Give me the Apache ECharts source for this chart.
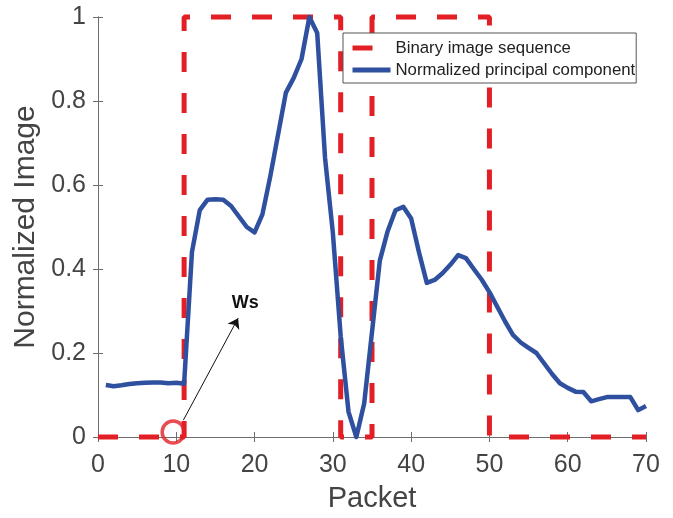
<!DOCTYPE html>
<html>
<head>
<meta charset="utf-8">
<script src="https://cdn.jsdelivr.net/npm/echarts@6/dist/echarts.min.js"></script>
<style>
  html, body { margin: 0; padding: 0; background: #fff; }
  #chart { width: 673px; height: 518px; }
</style>
</head>
<body>
<div id="chart"></div>
<script>
// packet index of the principal-component curve
var packets = [];
for (var p = 1; p <= 70; p++) packets.push(p);

// normalized principal component (x = 1..70)
var pcValues = [
  0.124, 0.121, 0.123, 0.126, 0.128, 0.129, 0.130, 0.130, 0.128, 0.129,
  0.127, 0.440, 0.540, 0.565, 0.566, 0.565, 0.550, 0.525, 0.500, 0.487,
  0.530, 0.620, 0.720, 0.820, 0.855, 0.900, 1.000, 0.962, 0.665, 0.486,
  0.240, 0.060, 0.000, 0.080, 0.250, 0.420, 0.490, 0.540, 0.548, 0.520,
  0.440, 0.367, 0.374, 0.390, 0.410, 0.433, 0.426, 0.400, 0.375, 0.345,
  0.310, 0.275, 0.243, 0.225, 0.212, 0.200, 0.175, 0.150, 0.128, 0.117,
  0.108, 0.107, 0.085, 0.090, 0.095, 0.095, 0.095, 0.095, 0.064, 0.074
];

// binary image sequence as step corners
var binX = [0, 11, 11, 31, 31, 35, 35, 50, 50, 70];
var binY = [0, 0, 1, 1, 0, 0, 1, 1, 0, 0];

var xTicks = [0, 10, 20, 30, 40, 50, 60, 70];
var yTicks = [0, 0.2, 0.4, 0.6, 0.8, 1];

// the Ws marker (circle) and its arrow / label
var wsCircle = [9.6, 0.012];
var wsArrow = [[10.9, 0.04], [17.9, 0.283]];
var wsLabel = [18.8, 0.318];

var pcData = packets.map(function (x, i) { return [x, pcValues[i]]; });
var binData = binX.map(function (x, i) { return [x, binY[i]]; });

var myChart = echarts.init(document.getElementById('chart'));

var red = '#e31f26';
var blue = '#2f4f9f';
var axisGray = '#6e6e6e';
var font = 'Liberation Sans, Arial, Helvetica, sans-serif';

var option = {
  animation: false,
  backgroundColor: '#fff',
  grid: { left: 98, right: 27, top: 17, bottom: 81 },
  legend: {
    orient: 'vertical',
    left: 343,
    top: 33,
    data: [
      { name: 'Binary image sequence', lineStyle: { width: 5, color: red, type: [20, 21] } },
      { name: 'Normalized principal component', lineStyle: { width: 5, color: blue } }
    ],
    itemWidth: 38,
    itemHeight: 14,
    itemGap: 2,
    padding: [5, 1, 3, 7],
    borderColor: '#555',
    borderWidth: 1,
    backgroundColor: '#fff',
    itemStyle: { opacity: 0 },
    textStyle: { fontFamily: font, fontSize: 16.8, color: '#222', lineHeight: 20 }
  },
  xAxis: [{
    type: 'value',
    min: xTicks[0], max: xTicks[xTicks.length - 1], interval: 10,
    name: 'Packet', nameLocation: 'middle', nameGap: 47,
    nameTextStyle: { fontFamily: font, fontSize: 29, color: '#444' },
    axisLine: { show: true, lineStyle: { color: axisGray, width: 1 } },
    axisTick: { show: true, inside: true, length: 5, lineStyle: { color: axisGray } },
    axisLabel: { margin: 16, fontFamily: font, fontSize: 25, color: '#444' },
    splitLine: { show: false }
  }, {
    type: 'value', position: 'top',
    min: xTicks[0], max: xTicks[xTicks.length - 1], interval: 10,
    axisLine: { show: true, lineStyle: { color: axisGray, width: 1 } },
    axisTick: { show: true, inside: true, length: 5, lineStyle: { color: axisGray } },
    axisLabel: { show: false },
    splitLine: { show: false }
  }],
  yAxis: [{
    type: 'value',
    min: yTicks[0], max: yTicks[yTicks.length - 1], interval: 0.2,
    name: 'Normalized Image', nameLocation: 'middle', nameGap: 56,
    nameTextStyle: { fontFamily: font, fontSize: 30, color: '#444' },
    axisLine: { show: true, lineStyle: { color: axisGray, width: 1 } },
    axisTick: { show: true, inside: true, length: 5, lineStyle: { color: axisGray } },
    axisLabel: { margin: 12, padding: [8, 0, 0, 0], fontFamily: font, fontSize: 25, color: '#444' },
    splitLine: { show: false }
  }, {
    type: 'value', position: 'right',
    min: yTicks[0], max: yTicks[yTicks.length - 1], interval: 0.2,
    axisLine: { show: true, lineStyle: { color: axisGray, width: 1 } },
    axisTick: { show: true, inside: true, length: 5, lineStyle: { color: axisGray } },
    axisLabel: { show: false },
    splitLine: { show: false }
  }],
  series: [
    {
      name: 'Binary image sequence',
      type: 'line',
      data: binData,
      symbol: 'none',
      clip: false,
      z: 2,
      lineStyle: { color: red, width: 5, type: [20, 21] },
      itemStyle: { color: red }
    },
    {
      name: 'Normalized principal component',
      type: 'line',
      data: pcData,
      symbol: 'none',
      clip: false,
      z: 3,
      lineStyle: { color: blue, width: 4.5, join: 'round' },
      itemStyle: { color: blue }
    },
    {
      name: 'Ws',
      type: 'scatter',
      data: [wsCircle],
      symbol: 'circle',
      symbolSize: 22,
      clip: false,
      z: 4,
      itemStyle: { color: 'rgba(0,0,0,0)', borderColor: red, borderWidth: 3.5 },
      markLine: {
        silent: true,
        symbol: ['none', 'arrow'],
        symbolSize: 10,
        label: { show: false },
        lineStyle: { color: '#111', width: 1, type: 'solid' },
        itemStyle: { color: '#111' },
        data: [[{ coord: wsArrow[0] }, { coord: wsArrow[1] }]]
      },
      markPoint: {
        silent: true,
        symbol: 'circle',
        symbolSize: 1,
        itemStyle: { color: 'rgba(0,0,0,0)' },
        label: {
          show: true, position: 'inside', formatter: 'Ws',
          fontFamily: font, fontWeight: 'bold', fontSize: 18, color: '#111'
        },
        data: [{ coord: wsLabel }]
      }
    }
  ]
};

myChart.setOption(option);
</script>
</body>
</html>
